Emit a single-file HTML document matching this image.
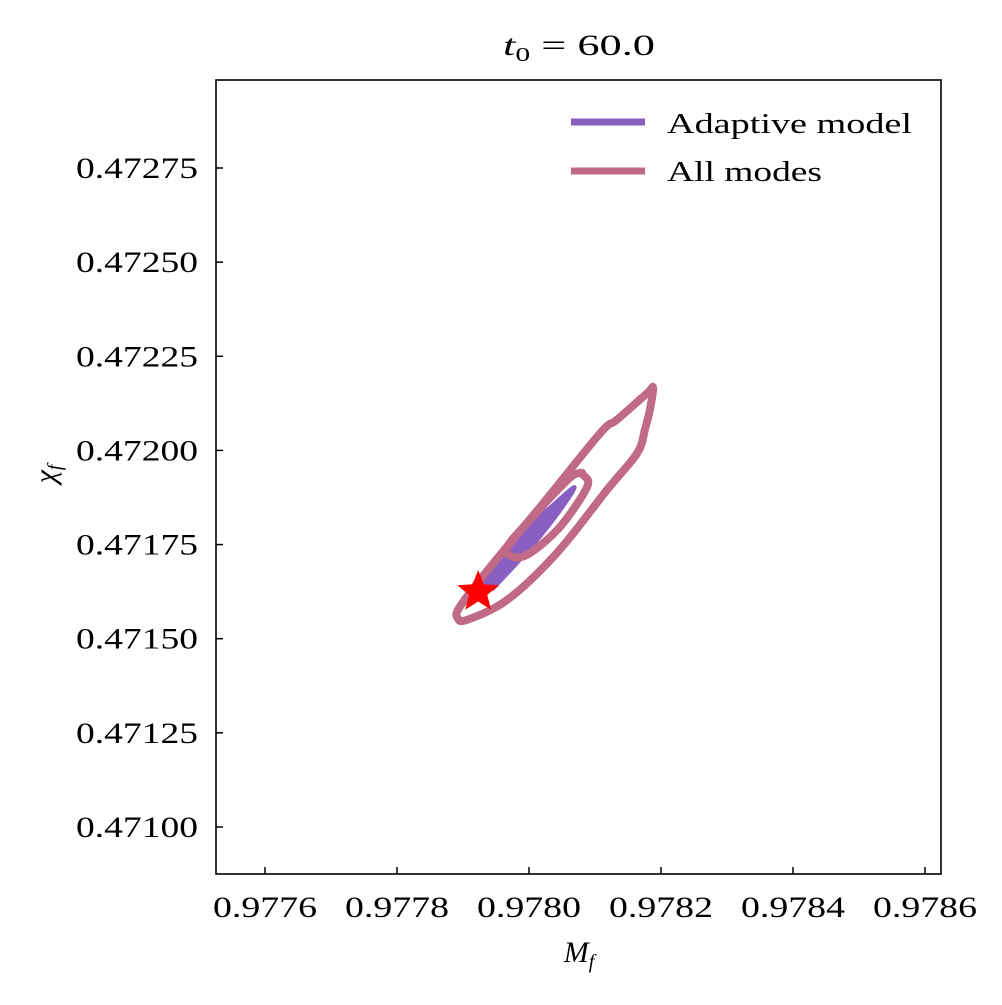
<!DOCTYPE html>
<html><head><meta charset="utf-8">
<style>
body{margin:0;background:#fff;}
svg text{font-family:"Liberation Serif",serif;fill:#000;}
</style></head>
<body>
<svg id="chart" width="1002" height="1000" xmlns="http://www.w3.org/2000/svg">
<rect width="1002" height="1000" fill="#fff"/>
<g id="plot"></g>
</svg>
<script>
const xTicks=[0.9776,0.9778,0.9780,0.9782,0.9784,0.9786];
const xTickLabels=["0.9776","0.9778","0.9780","0.9782","0.9784","0.9786"];
const yTicks=[0.47100,0.47125,0.47150,0.47175,0.47200,0.47225,0.47250,0.47275];
const yTickLabels=["0.47100","0.47125","0.47150","0.47175","0.47200","0.47225","0.47250","0.47275"];
const outerM=[0.978188,0.978183,0.978176,0.978164,0.978118,0.978042,0.977967,0.977906,0.977892,0.977895,0.977941,0.978017,0.978108,0.978133,0.978179];
const outerC=[0.472166,0.472107,0.472059,0.471993,0.471895,0.471727,0.471603,0.471550,0.471555,0.471584,0.471690,0.471850,0.472046,0.472081,0.472152];
const innerM=[0.978082,0.978088,0.978047,0.978001,0.977976,0.977967,0.977997,0.978058,0.978077];
const innerC=[0.471935,0.471903,0.471797,0.471727,0.471717,0.471743,0.471807,0.471921,0.471940];
const adaptM=[0.977930,0.977986,0.978032,0.978067,0.978062,0.978017,0.977959,0.977941];
const adaptC=[0.471656,0.471780,0.471850,0.471903,0.471876,0.471770,0.471656,0.471629];
const starM=[0.977923];
const starC=[0.471624];

const L=216,R=941,T=80,B=874;
const X=v=>265+(v-0.9776)/0.0002*132;
const Y=v=>168-(v-0.47275)/0.00025*94.14;
const NS="http://www.w3.org/2000/svg";
const g=document.getElementById('plot');
function el(t,a){const e=document.createElementNS(NS,t);for(const k in a)e.setAttribute(k,a[k]);g.appendChild(e);return e;}
function smooth(M,C){const P=M.map((m,i)=>[X(m),Y(C[i])]);const n=P.length;let d="M"+P[0][0].toFixed(1)+","+P[0][1].toFixed(1);
for(let i=0;i<n;i++){const p0=P[(i-1+n)%n],p1=P[i],p2=P[(i+1)%n],p3=P[(i+2)%n];
const c1=[p1[0]+(p2[0]-p0[0])/6,p1[1]+(p2[1]-p0[1])/6],c2=[p2[0]-(p3[0]-p1[0])/6,p2[1]-(p3[1]-p1[1])/6];
d+=" C"+c1.map(v=>v.toFixed(1)).join(",")+" "+c2.map(v=>v.toFixed(1)).join(",")+" "+p2.map(v=>v.toFixed(1)).join(",");}
return d+"Z";}

let p=el('path',{d:smooth(adaptM,adaptC),fill:'#8a5fc2',stroke:'#8a5fc2','stroke-width':3,'stroke-linejoin':'round'});


p=el('path',{d:smooth(outerM,outerC),fill:'none',stroke:'#c06a87','stroke-width':8,'stroke-linejoin':'round'});


p=el('path',{d:smooth(innerM,innerC),fill:'none',stroke:'#c06a87','stroke-width':8,'stroke-linejoin':'round'});



{const cx=X(starM[0]),cy=Y(starC[0]),ro=22,ri=9.5;let s=[];
for(let i=0;i<10;i++){const r=i%2?ri:ro;const a=-Math.PI/2+i*Math.PI/5;s.push((cx+r*Math.cos(a)).toFixed(1)+","+(cy+r*Math.sin(a)).toFixed(1));}
const st=el('polygon',{points:s.join(" "),fill:'#ff0000'});

}

const fr=el('rect',{x:L,y:T,width:R-L,height:B-T,fill:'none',stroke:'#000','stroke-width':1.6});



xTicks.forEach((v,i)=>{const x=X(v);
const t=el('line',{x1:x,x2:x,y1:B,y2:B-7,stroke:'#000','stroke-width':1.5});


const tx=el('text',{x:x,y:917,'font-size':30,'text-anchor':'middle',textLength:104,lengthAdjust:'spacingAndGlyphs'});tx.textContent=xTickLabels[i];

});
yTicks.forEach((v,i)=>{const y=Y(v);
const t=el('line',{x1:L,x2:L+7,y1:y,y2:y,stroke:'#000','stroke-width':1.5});


const tx=el('text',{x:76,y:y+10,'font-size':30,textLength:122,lengthAdjust:'spacingAndGlyphs'});tx.textContent=yTickLabels[i];

});

let t=el('text',{x:579,y:962,'font-size':30,'text-anchor':'middle','font-style':'italic'});
t.innerHTML='M<tspan font-size="20" dy="6">f</tspan>';


t=el('text',{x:0,y:0,'font-size':30,'text-anchor':'middle','font-style':'italic',transform:'translate(55,474) rotate(-90)'});
t.innerHTML='χ<tspan font-size="20" dy="6">f</tspan>';


t=el('text',{x:503,y:55,'font-size':30,textLength:152,lengthAdjust:'spacingAndGlyphs'});
t.innerHTML='<tspan font-style="italic">t</tspan><tspan font-size="20" dy="6">0</tspan><tspan dy="-6"> = 60.0</tspan>';



let l=el('line',{x1:571,x2:645,y1:122,y2:122,stroke:'#8a5fc2','stroke-width':7});


t=el('text',{x:667,y:133,'font-size':29,textLength:245,lengthAdjust:'spacingAndGlyphs'});t.textContent='Adaptive model';


l=el('line',{x1:571,x2:645,y1:171,y2:171,stroke:'#c06a87','stroke-width':7});


t=el('text',{x:667,y:181,'font-size':29,textLength:155,lengthAdjust:'spacingAndGlyphs'});t.textContent='All modes';


</script>
</body></html>
